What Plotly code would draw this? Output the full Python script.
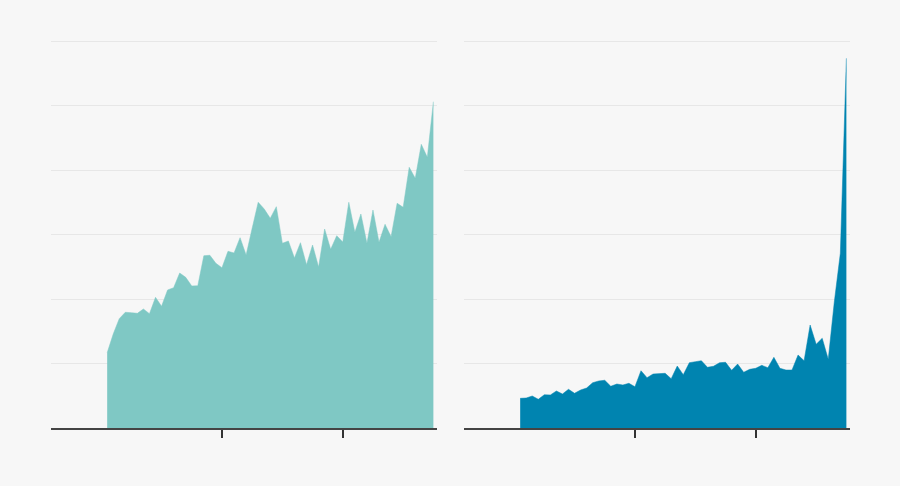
import plotly.graph_objects as go
from plotly.subplots import make_subplots

years = list(range(1961, 2016))

left_values = [
    1.167, 1.457, 1.695, 1.794, 1.788, 1.778, 1.845, 1.772, 2.026, 1.887,
    2.140, 2.175, 2.403, 2.336, 2.202, 2.206, 2.671, 2.678, 2.553, 2.485,
    2.740, 2.713, 2.950, 2.682, 3.096, 3.499, 3.395, 3.251, 3.431, 2.864,
    2.899, 2.636, 2.873, 2.532, 2.837, 2.496, 3.085, 2.771, 2.981, 2.884,
    3.499, 3.034, 3.318, 2.864, 3.380, 2.879, 3.158, 2.966, 3.484, 3.422,
    4.042, 3.871, 4.398, 4.197, 5.059,
]

right_values = [
    0.460, 0.465, 0.496, 0.445, 0.516, 0.512, 0.574, 0.527, 0.600, 0.538,
    0.589, 0.620, 0.702, 0.729, 0.740, 0.647, 0.682, 0.667, 0.693, 0.640,
    0.888, 0.780, 0.837, 0.842, 0.848, 0.764, 0.961, 0.826, 1.012, 1.028,
    1.043, 0.941, 0.957, 1.012, 1.019, 0.895, 0.992, 0.864, 0.910, 0.926,
    0.972, 0.935, 1.096, 0.926, 0.899, 0.899, 1.132, 1.043, 1.597, 1.298,
    1.391, 1.065, 1.953, 2.709, 5.732,
]

x_ticks = [1980, 2000]
y_grid = [1, 2, 3, 4, 5, 6]

LEFT_COLOR = "#7fc8c4"
RIGHT_COLOR = "#0084b0"
BG = "#f7f7f7"

fig = make_subplots(rows=1, cols=2)

fig.add_trace(go.Scatter(x=years, y=left_values, mode="lines", fill="tozeroy",
                         fillcolor=LEFT_COLOR, line=dict(color=LEFT_COLOR, width=0.5),
                         hoverinfo="skip", showlegend=False), row=1, col=1)
fig.add_trace(go.Scatter(x=years, y=right_values, mode="lines", fill="tozeroy",
                         fillcolor=RIGHT_COLOR, line=dict(color=RIGHT_COLOR, width=0.5),
                         hoverinfo="skip", showlegend=False), row=1, col=2)

xaxis_common = dict(range=[1951.7, 2015.6], tickvals=x_ticks, showticklabels=False,
                    ticks="outside", ticklen=8, tickwidth=1.5, tickcolor="#333333",
                    showline=True, linecolor="#444444", linewidth=2, showgrid=False,
                    zeroline=False)
Y_TOP = 6.1
yaxis_common = dict(range=[0, Y_TOP], tickvals=y_grid, showticklabels=False, ticks="",
                    showgrid=True, gridcolor="#e7e7e7", gridwidth=1, zeroline=False,
                    showline=False)

px_per_unit = (428 - 41) / 6
top_px = 428 - Y_TOP * px_per_unit
y_dom = [(486 - 428) / 486, (486 - top_px) / 486]

fig.update_layout(
    width=900, height=486,
    paper_bgcolor=BG, plot_bgcolor=BG,
    margin=dict(l=0, r=0, t=0, b=0),
    xaxis=dict(domain=[51 / 900, 437 / 900], **xaxis_common),
    xaxis2=dict(domain=[464 / 900, 850 / 900], **xaxis_common),
    yaxis=dict(domain=y_dom, **yaxis_common),
    yaxis2=dict(domain=y_dom, **yaxis_common),
)

fig.write_html(
    "out.html",
    config={"displayModeBar": False},
    post_script="document.body.style.margin='0px';document.body.style.background='#f7f7f7';",
)
